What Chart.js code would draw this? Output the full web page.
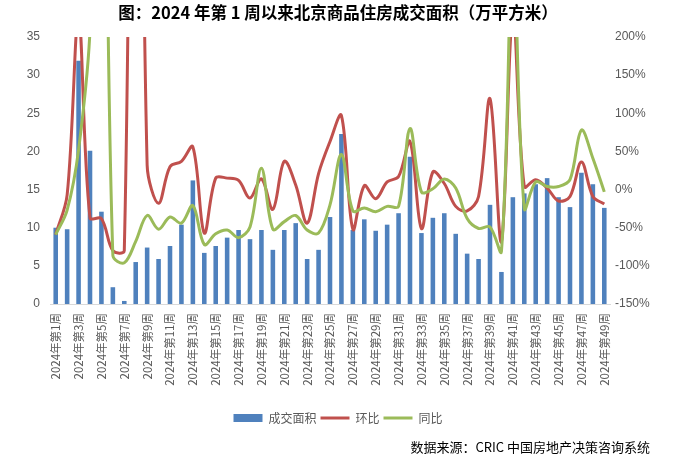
<!DOCTYPE html>
<html>
<head>
<meta charset="utf-8">
<title>北京商品住房成交面积</title>
<script src="https://cdn.jsdelivr.net/npm/chart.js"></script>
<style>
    body { margin: 0; background: #fff; }
    .wrap { position: relative; width: 676px; height: 466px; }
    .title {
        position: absolute; top: 0; left: 0; width: 676px; line-height: 24px;
        text-align: center; font: bold 16.5px "Noto Sans CJK SC", sans-serif; color: #000;
    }
    .source {
        position: absolute; right: 26px; top: 437px; line-height: 20px;
        font: 13px "Noto Sans CJK SC", sans-serif; color: #000;
    }
</style>
</head>
<body>
<div class="wrap">
    <canvas id="areaChart"></canvas>
    <div class="title">图：2024 年第 1 周以来北京商品住房成交面积（万平方米）</div>
    <div class="source">数据来源：CRIC 中国房地产决策咨询系统</div>
</div>
<script>
    // weekly data
    const weeks = Array.from({length: 49}, (_, i) => '2024年第' + (i + 1) + '周');
    const area = [10.0, 9.8, 31.9, 20.1, 12.1, 2.2, 0.4, 5.5, 7.4, 5.9,
                  7.6, 10.4, 16.2, 6.7, 7.6, 8.7, 9.7, 8.5, 9.7, 7.1,
                  9.7, 10.6, 5.9, 7.1, 11.4, 22.3, 9.7, 11.1, 9.6, 10.4,
                  11.9, 19.3, 9.3, 11.3, 11.9, 9.2, 6.6, 5.9, 13.0, 4.2,
                  14.0, 14.5, 15.7, 16.5, 14.0, 12.7, 17.2, 15.7, 12.6];
    // 环比 (%)
    const mom = [-59, -7, 226, -37, -38, -80, -80, 1200, 32, -18,
                 30, 37, 56, -57, 15, 15, 12, -11, 14, -26,
                 37, 6, -44, 21, 63, 97, -52, 5, -12, 10,
                 17, 63, -51, 23, 8, -22, -28, -9, 119, -68,
                 233, 4, 13, 2, -15, -9, 36, -9, -19];
    // 同比 (%)
    const yoy = [-59, -27, 52, 210, 800, -86, -96, -68, -34, -52,
                 -36, -44, -21, -72, -58, -53, -63, -49, 28, -52,
                 -42, -34, -53, -57, -20, 46, -28, -24, -29, -22,
                 -22, 80, -3, 1, 14, 2, -38, -51, -49, -81,
                 320, -25, 10, 4, 4, 13, 78, 41, -3];

    const grey = '#595959';
    const ctx = document.getElementById('areaChart').getContext('2d');
    const areaChart = new Chart(ctx, {
        data: {
            labels: weeks,
            datasets: [{
                type: 'bar',
                label: '成交面积',
                data: area,
                backgroundColor: '#4F81BD',
                barPercentage: 0.4,
                categoryPercentage: 1.0,
                yAxisID: 'y',
                pointStyle: 'rect',
                order: 3
            }, {
                type: 'line',
                label: '环比',
                data: mom,
                borderColor: '#C0504D',
                backgroundColor: '#C0504D',
                borderWidth: 3,
                pointRadius: 0,
                tension: 0.35,
                yAxisID: 'y1',
                pointStyle: 'line',
                order: 2
            }, {
                type: 'line',
                label: '同比',
                data: yoy,
                borderColor: '#9BBB59',
                backgroundColor: '#9BBB59',
                borderWidth: 3,
                pointRadius: 0,
                tension: 0.35,
                yAxisID: 'y1',
                pointStyle: 'line',
                order: 1
            }]
        },
        options: {
            responsive: true,
            maintainAspectRatio: false,
            animation: false,
            layout: { padding: { top: 37, left: 0, right: 0, bottom: 32 } },
            plugins: {
                tooltip: { enabled: false },
                legend: {
                    position: 'bottom',
                    labels: {
                        usePointStyle: true,
                        pointStyleWidth: 29,
                        boxHeight: 8,
                        padding: 4,
                        color: grey,
                        font: { size: 12, family: '"Noto Sans CJK SC", sans-serif' },
                        sort: (a, b) => a.datasetIndex - b.datasetIndex
                    }
                }
            },
            scales: {
                x: {
                    grid: { display: false, drawTicks: false },
                    border: { display: true, color: '#D9D9D9' },
                    ticks: {
                        autoSkip: false,
                        minRotation: 90,
                        maxRotation: 90,
                        padding: 9,
                        color: grey,
                        font: { size: 11.5, family: '"Noto Sans CJK SC", sans-serif' },
                        callback: function (v, i) { return i % 2 === 0 ? this.getLabelForValue(v) : ''; }
                    },
                    afterFit: s => { s.height = 104; }
                },
                y: {
                    position: 'left',
                    min: 0, max: 35,
                    grid: { display: false, drawTicks: false },
                    border: { display: false },
                    ticks: {
                        stepSize: 5, padding: 10, color: grey,
                        font: { size: 12, family: '"Liberation Sans", sans-serif' }
                    },
                    afterFit: s => { s.width = 50; }
                },
                y1: {
                    position: 'right',
                    min: -150, max: 200,
                    grid: { display: false, drawTicks: false },
                    border: { display: false },
                    ticks: {
                        stepSize: 50, padding: 5, color: grey,
                        font: { size: 12, family: '"Liberation Sans", sans-serif' },
                        callback: v => v + '%'
                    },
                    afterFit: s => { s.width = 66; }
                }
            }
        }
    });
</script>
</body>
</html>
